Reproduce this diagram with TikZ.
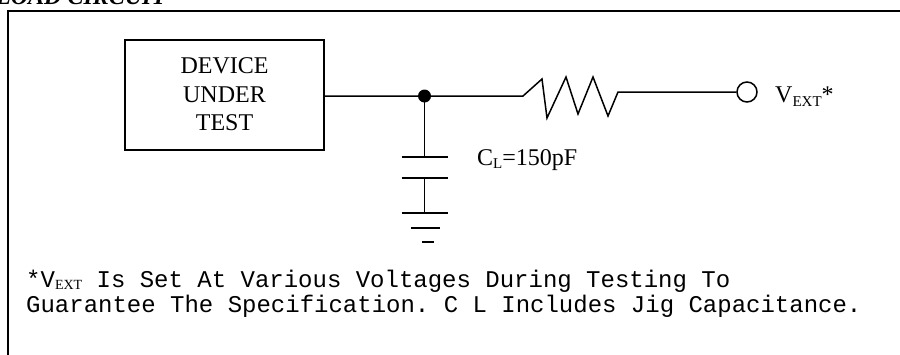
\documentclass[tikz,border=0pt]{standalone}
\usepackage{fontspec}
\setmainfont{Liberation Serif}
\setmonofont{Liberation Mono}
\begin{document}
\begin{tikzpicture}[x=1pt,y=-1pt,
  wire/.style={line width=1.5pt},
  big/.style={font=\fontsize{24}{28}\selectfont, inner sep=0pt},
  mono/.style={font=\fontsize{24}{25}\selectfont\ttfamily, inner sep=0pt},
  dutbox/.style={draw, line width=1.5pt, minimum width=199pt, minimum height=110pt, inner sep=0pt},
  term/.style={circle, draw, line width=1.5pt, minimum size=20pt, inner sep=0pt},
  junc/.style={circle, fill, minimum size=13pt, inner sep=0pt}]
\useasboundingbox (0,0) rectangle (900,354);
% title (cut off at the top)
\node[anchor=base west, inner sep=0pt, font=\fontsize{24}{28}\selectfont\bfseries\itshape] (title) at (-4,4) {LOAD CIRCUIT};
% frame
\draw[line width=2.5pt] (8,360) -- (8,11) -- (905,11);
% device
\node[dutbox] (dut) at (224.5,95) {};
\node[big, anchor=base] (l1) at (224.5,73) {DEVICE};
\node[big, anchor=base] (l2) at (224.5,102) {UNDER};
\node[big, anchor=base] (l3) at (224.5,130.5) {TEST};
% junction and terminal
\node[junc] (j) at (424.5,96) {};
\node[term] (vext) at (747,92) {};
\coordinate (ra) at (523,96);
\coordinate (rb) at (618,92);
\draw[wire] (dut.east |- j) -- (j.center) -- (ra)
  -- (542,79) -- (547,118) -- (566,77) -- (578,114) -- (593,77) -- (608,116) -- (rb) -- (vext.west);
% capacitor and ground
\coordinate (p1) at (424.5,157);
\coordinate (p2) at (424.5,178);
\coordinate (g1) at (424.5,213);
\draw[wire] (j.center) -- (p1);
\draw[wire] ([xshift=-23pt]p1) -- ([xshift=23pt]p1);
\draw[wire] ([xshift=-23pt]p2) -- ([xshift=23pt]p2);
\draw[wire] (p2) -- (g1);
\draw[wire] ([xshift=-23pt]g1) -- ([xshift=23pt]g1);
\draw[wire] (411,228) -- (440,228);
\draw[wire] (422,242) -- (434,242);
% labels
\node[big, anchor=base west] (cl) at (477,165) {C{\fontsize{15}{15}\selectfont\raisebox{-3pt}{L}}=150pF};
\node[big, anchor=base west] (vl) at (775,102) {V{\fontsize{15}{15}\selectfont\raisebox{-4pt}{EXT}}*};
% note
\node[mono, anchor=base west] (n1) at (26,287)
  {*V{\rmfamily\fontsize{14}{14}\selectfont\raisebox{-2pt}{EXT}} Is Set At Various Voltages During Testing To};
\node[mono, anchor=base west] (n2) at (26,312)
  {Guarantee The Specification. C L Includes Jig Capacitance.};
\end{tikzpicture}
\end{document}
